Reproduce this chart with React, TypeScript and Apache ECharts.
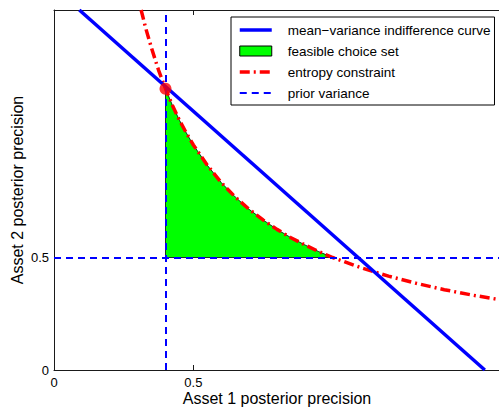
import React, { useEffect, useRef } from "react";
import * as echarts from "echarts";

// ---- data ----
const xTickValues = [0, 0.5];
const yTickValues = [0, 0.5];
const xRange = [0, 1.6];
const yRange = [0, 1.6];

const priorVarianceX = 0.4;
const priorVarianceY = 0.5;

const optimumPoint = [[0.4, 1.25]];

const indifferenceLine = [
  [0.0909, 1.6],
  [1.5455, 0],
];

const entropyCurve = [
  [0.3125, 1.6],
  [0.33, 1.515],
  [0.35, 1.43],
  [0.375, 1.333],
  [0.4, 1.25],
  [0.425, 1.176],
  [0.45, 1.11],
  [0.475, 1.053],
  [0.5, 1.0],
  [0.55, 0.91],
  [0.6, 0.833],
  [0.65, 0.769],
  [0.7, 0.714],
  [0.75, 0.667],
  [0.8, 0.625],
  [0.85, 0.588],
  [0.9, 0.556],
  [0.95, 0.526],
  [1.0, 0.5],
  [1.1, 0.455],
  [1.2, 0.417],
  [1.3, 0.385],
  [1.4, 0.357],
  [1.5, 0.333],
  [1.6, 0.3125],
];

const seriesNames = [
  "mean\u2212variance indifference curve",
  "feasible choice set",
  "entropy constraint",
  "prior variance",
];

// feasible set polygon: corner of prior-variance lines + entropy curve between them
const feasibleSet = [
  [priorVarianceX, priorVarianceY],
  ...entropyCurve.filter((p) => p[0] >= priorVarianceX && p[1] >= priorVarianceY),
];

const FONT = '"Liberation Sans", Arial, Helvetica, sans-serif';
const BLUE = "#0000ff";
const RED = "#ff0000";
const GREEN = "#00ff00";
const AXIS = "#1a1a1a";

const hiddenSymbol = { color: "rgba(0,0,0,0)", borderWidth: 0, opacity: 0 };

export default function App() {
  const ref = useRef<HTMLDivElement>(null);

  useEffect(() => {
    if (!ref.current) return;
    const chart = echarts.init(ref.current, null, { renderer: "svg" });

    const option: any = {
      animation: false,
      backgroundColor: "#ffffff",
      textStyle: { fontFamily: FONT },
      grid: {
        left: 54,
        top: 10,
        width: 446,
        height: 360,
        containLabel: false,
        outerBoundsMode: "none",
      },
      legend: {
        orient: "vertical",
        left: 231,
        top: 17,
        padding: [6, 4, 5, 7],
        itemWidth: 32,
        itemHeight: 10,
        itemGap: 7,
        backgroundColor: "#ffffff",
        borderColor: "#000000",
        borderWidth: 1,
        borderRadius: 0,
        selectedMode: false,
        lineStyle: { width: "inherit" },
        textStyle: {
          fontFamily: FONT,
          fontSize: 13.5,
          color: "#000",
          lineHeight: 10,
          padding: [0, 0, 0, 11],
        },
        data: [
          { name: seriesNames[0], itemStyle: hiddenSymbol },
          {
            name: seriesNames[1],
            icon: "rect",
            itemStyle: { color: GREEN, borderColor: "#000", borderWidth: 1 },
          },
          { name: seriesNames[2], itemStyle: hiddenSymbol },
          { name: seriesNames[3], itemStyle: hiddenSymbol },
        ],
      },
      xAxis: [
        {
          type: "value",
          min: xRange[0],
          max: xRange[1],
          position: "bottom",
          name: "Asset 1 posterior precision",
          nameLocation: "middle",
          nameGap: 20,
          nameMoveOverlap: false,
          nameTextStyle: { fontFamily: FONT, fontSize: 16, color: "#000", lineHeight: 16 },
          axisLine: { show: true, onZero: false, lineStyle: { color: AXIS, width: 1 } },
          axisTick: { show: true, inside: true, length: 5, customValues: xTickValues, lineStyle: { color: AXIS } },
          axisLabel: { show: true, customValues: xTickValues, margin: 6, fontSize: 13, color: "#000", fontFamily: FONT },
          splitLine: { show: false },
        },
        {
          type: "value",
          min: xRange[0],
          max: xRange[1],
          position: "top",
          axisLine: { show: true, onZero: false, lineStyle: { color: AXIS, width: 1 } },
          axisTick: { show: true, inside: true, length: 5, customValues: xTickValues, lineStyle: { color: AXIS } },
          axisLabel: { show: false },
          splitLine: { show: false },
        },
      ],
      yAxis: [
        {
          type: "value",
          min: yRange[0],
          max: yRange[1],
          position: "left",
          name: "Asset 2 posterior precision",
          nameLocation: "middle",
          nameGap: 29,
          nameMoveOverlap: false,
          nameTextStyle: { fontFamily: FONT, fontSize: 16, color: "#000", lineHeight: 16 },
          axisLine: { show: true, onZero: false, lineStyle: { color: AXIS, width: 1 } },
          axisTick: { show: true, inside: true, length: 5, customValues: yTickValues, lineStyle: { color: AXIS } },
          axisLabel: { show: true, customValues: yTickValues, margin: 5, fontSize: 13, color: "#000", fontFamily: FONT },
          splitLine: { show: false },
        },
      ],
      series: [
        {
          name: seriesNames[1],
          type: "custom",
          xAxisIndex: 0,
          yAxisIndex: 0,
          z: 1,
          itemStyle: { color: GREEN, borderColor: "#000", borderWidth: 1 },
          data: [[priorVarianceX, priorVarianceY]],
          renderItem: (params: any, api: any) => {
            const pts = feasibleSet.map((p) => api.coord(p));
            return {
              type: "polygon",
              shape: { points: pts },
              style: { fill: GREEN, stroke: "#000", lineWidth: 0.8 },
            };
          },
          silent: true,
        },
        {
          name: seriesNames[3],
          type: "line",
          z: 2,
          data: [],
          symbol: "none",
          itemStyle: { color: BLUE },
          lineStyle: { color: BLUE, width: 2, type: [7, 5] },
          markLine: {
            silent: true,
            symbol: ["none", "none"],
            label: { show: false },
            lineStyle: { color: BLUE, width: 2, type: [7, 5] },
            data: [{ xAxis: priorVarianceX }, { yAxis: priorVarianceY }],
          },
        },
        {
          name: seriesNames[2],
          type: "line",
          z: 3,
          data: entropyCurve,
          symbol: "none",
          smooth: false,
          clip: true,
          itemStyle: { color: RED },
          lineStyle: { color: RED, width: 3.5, type: [10, 4, 2, 4] },
        },
        {
          name: seriesNames[0],
          type: "line",
          z: 4,
          data: indifferenceLine,
          symbol: "none",
          clip: true,
          itemStyle: { color: BLUE },
          lineStyle: { color: BLUE, width: 3.5 },
        },
        {
          name: "optimum",
          type: "scatter",
          z: 5,
          data: optimumPoint,
          symbol: "circle",
          symbolSize: 12,
          itemStyle: { color: RED },
        },
      ],
    };

    chart.setOption(option);
    return () => chart.dispose();
  }, []);

  return (
    <div
      ref={ref}
      style={{ position: "absolute", left: 0, top: 0, width: 499, height: 408 }}
    />
  );
}
